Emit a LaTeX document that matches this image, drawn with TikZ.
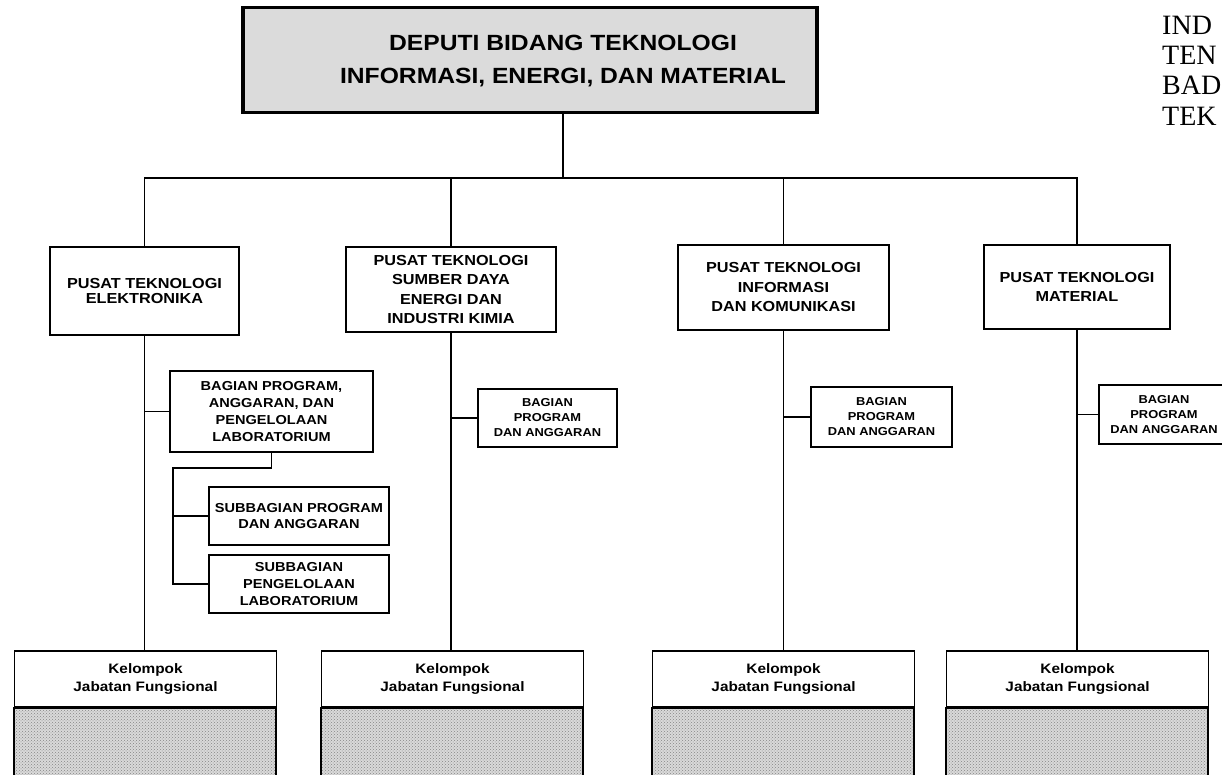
\documentclass[tikz,border=0pt]{standalone}
\usepackage{fontspec}
\setmainfont{Liberation Sans}[FakeStretch=1.12]
\newfontfamily\headserif{Liberation Serif}
\usetikzlibrary{positioning, patterns}

\begin{document}
\begin{tikzpicture}[x=1pt, y=-1pt,
  box/.style={draw, line width=1.8pt, align=center, inner sep=0pt, font=\bfseries\fontsize{14.5}{19.5}\selectfont},
  midbox/.style={box, font=\bfseries\fontsize{13}{17}\selectfont},
  smallbox/.style={box, font=\bfseries\fontsize{11.5}{15}\selectfont},
  kelbox/.style={box, minimum width=262pt, minimum height=56pt, font=\bfseries\fontsize{13.7}{18}\selectfont},
  hatch/.style={draw, line width=1.8pt, preaction={fill=gray!30}, pattern=crosshatch dots, pattern color=gray!95},
  hd/.style={anchor=west, inner sep=0pt, font=\headserif\fontsize{28}{28}\selectfont},
  line/.style={line width=1.4pt}]

\useasboundingbox (0,0) rectangle (1222,775);
\clip (0,0) rectangle (1222,775);

% nodes
\node[box, fill=gray!28, line width=3.5pt, minimum width=574pt, minimum height=105pt] (deputi) at (530, 60) {};
\node[align=center, inner sep=0pt, font=\bfseries\fontsize{22}{33}\selectfont] (deputiText) at (563, 61.5)
  {DEPUTI BIDANG TEKNOLOGI\\INFORMASI, ENERGI, DAN MATERIAL};

\node[hd] (hd1) at (1162, 25) {IND};
\node[hd] (hd2) at (1162, 55) {TEN};
\node[hd] (hd3) at (1162, 85) {BAD};
\node[hd] (hd4) at (1162, 116) {TEK};

\node[box, minimum width=189pt, minimum height=88pt, font=\bfseries\fontsize{14.5}{14.5}\selectfont]
  (elek) at (144.5, 291) {PUSAT TEKNOLOGI\\ELEKTRONIKA};
\node[box, minimum width=210pt, minimum height=85pt] (kimia) at (451, 289.5)
  {PUSAT TEKNOLOGI\\SUMBER DAYA\\ENERGI DAN\\INDUSTRI KIMIA};
\node[box, minimum width=211pt, minimum height=85pt] (kom) at (783.5, 287.5)
  {PUSAT TEKNOLOGI\\INFORMASI\\DAN KOMUNIKASI};
\node[box, minimum width=186pt, minimum height=84pt] (mat) at (1077, 287)
  {PUSAT TEKNOLOGI\\MATERIAL};

\node[midbox, minimum width=203pt, minimum height=81pt] (bagE) at (271.5, 411.5)
  {BAGIAN PROGRAM,\\ANGGARAN, DAN\\PENGELOLAAN\\LABORATORIUM};
\node[midbox, minimum width=180pt, minimum height=58pt, font=\bfseries\fontsize{13}{16}\selectfont]
  (subProg) at (299, 516) {SUBBAGIAN PROGRAM\\DAN ANGGARAN};
\node[midbox, minimum width=180pt, minimum height=58pt] (subLab) at (299, 584)
  {SUBBAGIAN\\PENGELOLAAN\\LABORATORIUM};

\node[smallbox, minimum width=139pt, minimum height=58pt] (bagS) at (547.5, 418)
  {BAGIAN\\PROGRAM\\DAN ANGGARAN};
\node[smallbox, minimum width=141pt, minimum height=60pt] (bagI) at (881.5, 417)
  {BAGIAN\\PROGRAM\\DAN ANGGARAN};
\node[smallbox, minimum width=130pt, minimum height=59pt] (bagM) at (1164, 414.5)
  {BAGIAN\\PROGRAM\\DAN ANGGARAN};

\node[kelbox] (kelE) at (145.5, 679) {Kelompok\\Jabatan Fungsional};
\node[kelbox] (kelS) at (452.5, 679) {Kelompok\\Jabatan Fungsional};
\node[kelbox] (kelI) at (783.5, 679) {Kelompok\\Jabatan Fungsional};
\node[kelbox] (kelM) at (1077.5, 679) {Kelompok\\Jabatan Fungsional};

\foreach \k in {kelE, kelS, kelI, kelM}
  \draw[hatch] (\k.south west) rectangle ++(262, 95);

% lines
\coordinate (bus) at (563, 178);
\draw[line] (bus |- deputi.south) -- (bus);
\draw[line] (elek.north) |- (bus) -| (mat.north);
\draw[line] (kimia.north) -- (kimia.north |- bus);
\draw[line] (kom.north) -- (kom.north |- bus);

\foreach \p/\k in {elek/kelE, kimia/kelS, kom/kelI, mat/kelM}
  \draw[line] (\p.south) -- (\p.south |- \k.north);

\draw[line] (elek.south |- bagE.west) -- (bagE.west);
\foreach \p/\b in {kimia/bagS, kom/bagI, mat/bagM}
  \draw[line] (\p.south |- \b.west) -- (\b.west);

\coordinate (subbus) at (173, 468);
\draw[line] (bagE.south) |- (subbus) -- (subbus |- subLab.west) -- (subLab.west);
\draw[line] (subbus |- subProg.west) -- (subProg.west);

\end{tikzpicture}
\end{document}
